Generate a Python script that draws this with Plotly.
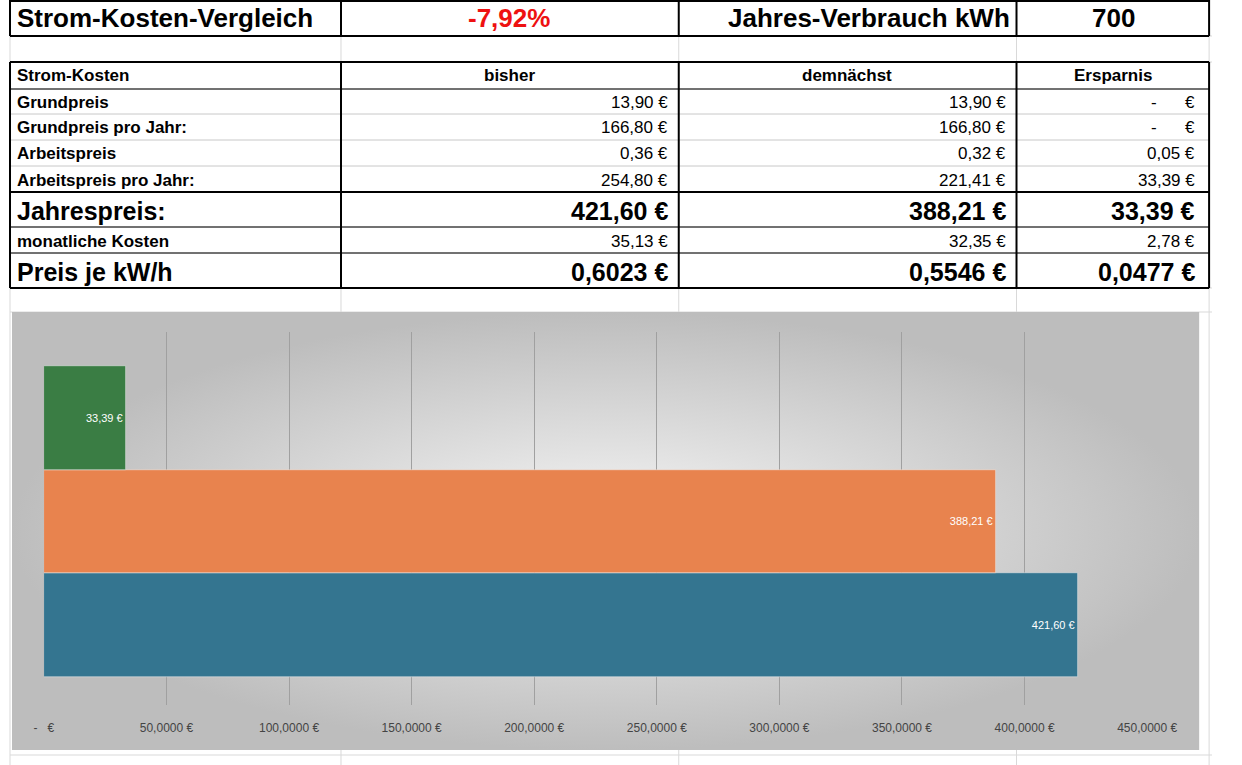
import plotly.graph_objects as go

W, H = 1242, 765

# data
kategorien = ["bisher", "demnächst", "Ersparnis"]
jahrespreis = [421.60, 388.21, 33.39]
balken_text = ["421,60 €", "388,21 €", "33,39 €"]
balken_farben = ["#347590", "#e8834e", "#3a7d44"]
tick_werte = [0, 50, 100, 150, 200, 250, 300, 350, 400, 450]
tick_text = ["-   €", "50,0000 €", "100,0000 €", "150,0000 €", "200,0000 €",
             "250,0000 €", "300,0000 €", "350,0000 €", "400,0000 €", "450,0000 €"]

zeilen = ["Grundpreis", "Grundpreis pro Jahr:", "Arbeitspreis", "Arbeitspreis pro Jahr:",
          "Jahrespreis:", "monatliche Kosten", "Preis je kW/h"]
bisher = ["13,90 €", "166,80 €", "0,36 €", "254,80 €", "421,60 €", "35,13 €", "0,6023 €"]
demnaechst = ["13,90 €", "166,80 €", "0,32 €", "221,41 €", "388,21 €", "32,35 €", "0,5546 €"]
ersparnis = ["-      €", "-      €", "0,05 €", "33,39 €", "33,39 €", "2,78 €", "0,0477 €"]

FONT = "Liberation Sans, Arial"
col_x = [0, 342, 691, 1040, 1239]
row_y = [89, 114, 140, 166, 192, 227, 253, 288]


def px(x):
    return x / W


def py(y):
    return 1 - y / H


fig = go.Figure()

# chart background (radial gradient) - first subplot, so the bars draw over it
fig.add_trace(go.Scatter(
    x=[0, 1, 1, 0, 0], y=[0, 0, 1, 1, 0], xaxis="x", yaxis="y",
    mode="lines", line=dict(width=0), fill="toself",
    fillgradient=dict(type="radial", colorscale=[[0, "#f7f7f7"], [1, "#bdbdbd"]]),
    hoverinfo="skip", showlegend=False,
))

fig.add_trace(go.Bar(
    y=kategorien, x=jahrespreis, orientation="h", xaxis="x2", yaxis="y2",
    marker=dict(color=balken_farben, line=dict(width=0.5, color="#eeeeee")),
    text=balken_text, textposition="inside", insidetextanchor="end",
    textfont=dict(color="white", size=11, family=FONT),
    width=1.0, showlegend=False,
))

ann = []
shapes = []


def txt(x, y, s, size, bold=False, anchor="left", color="black"):
    ann.append(dict(x=px(x), y=py(y), xref="paper", yref="paper", text=f"<b>{s}</b>" if bold else s,
                    showarrow=False, xanchor=anchor, yanchor="middle",
                    font=dict(family=FONT, size=size, color=color)))


def line(x0, y0, x1, y1, w=1.0, c="black"):
    shapes.append(dict(type="line", xref="paper", yref="paper", x0=px(x0), y0=py(y0),
                       x1=px(x1), y1=py(y1), line=dict(color=c, width=w), layer="below"))


# light spreadsheet grid
for y in [36, 62, 288, 312, 755]:
    line(0, y, 1242, y, 1, "#d9d9d9")
for x in col_x:
    line(x, 0, x, 765, 1, "#d9d9d9")
for y in row_y[:-1]:
    line(0, y, 1239, y, 1, "#c8c8c8")

# black borders
for y in [1, 36, 62, 288]:
    line(0, y, 1239, y, 2)
line(0, 192, 1239, 192, 2)
for y in [89, 227, 253]:
    line(0, y, 1239, y, 1)
for x in col_x:
    line(x, 0, x, 36, 2)
    line(x, 62, x, 288, 2)

# title row
txt(5, 18, "Strom-Kosten-Vergleich", 26, True)
txt(516, 18, "-7,92%", 26, True, "center", "#ee1111")
txt(1035, 18, "Jahres-Verbrauch kWh", 26, True, "right")
txt(1140, 18, "700", 26, True, "center")

# header
txt(5, 76, "Strom-Kosten", 17, True)
txt(516, 76, "bisher", 17, True, "center")
txt(865, 76, "demnächst", 17, True, "center")
txt(1140, 76, "Ersparnis", 17, True, "center")

for i, name in enumerate(zeilen):
    yc = (row_y[i] + row_y[i + 1]) / 2 + 1
    gross = name in ("Jahrespreis:", "Preis je kW/h")
    size = 25 if gross else 17
    txt(5, yc, name, size, True)
    txt(col_x[2] - 9, yc, bisher[i], size, gross, "right")
    txt(col_x[3] - 9, yc, demnaechst[i], size, gross, "right")
    txt(col_x[4] - 12, yc, ersparnis[i], size, gross, "right")

fig.update_layout(
    width=W, height=H, margin=dict(l=0, r=0, t=0, b=0),
    paper_bgcolor="white", plot_bgcolor="rgba(0,0,0,0)",
    bargap=0,
    xaxis=dict(domain=[px(2), px(1229)], range=[0, 1], visible=False, anchor="y", fixedrange=True),
    yaxis=dict(domain=[py(750), py(312)], range=[0, 1], visible=False, anchor="x", fixedrange=True),
    xaxis2=dict(domain=[px(35), px(1175)], range=[0, 450], tickvals=tick_werte, ticktext=tick_text,
                showgrid=True, gridcolor="#a0a0a0", gridwidth=1, zeroline=False,
                tickfont=dict(family=FONT, size=12, color="#444"), ticklabelstandoff=14,
                anchor="y2", fixedrange=True),
    yaxis2=dict(domain=[py(705), py(332)], range=[-0.77, 2.83], showticklabels=False,
                showgrid=False, zeroline=False, anchor="x2", fixedrange=True,
                categoryorder="array", categoryarray=kategorien),
    annotations=ann, shapes=shapes,
)

fig.write_html("out.html", config={"displayModeBar": False},
               post_script="document.body.style.margin='0';document.body.style.overflow='hidden';")
